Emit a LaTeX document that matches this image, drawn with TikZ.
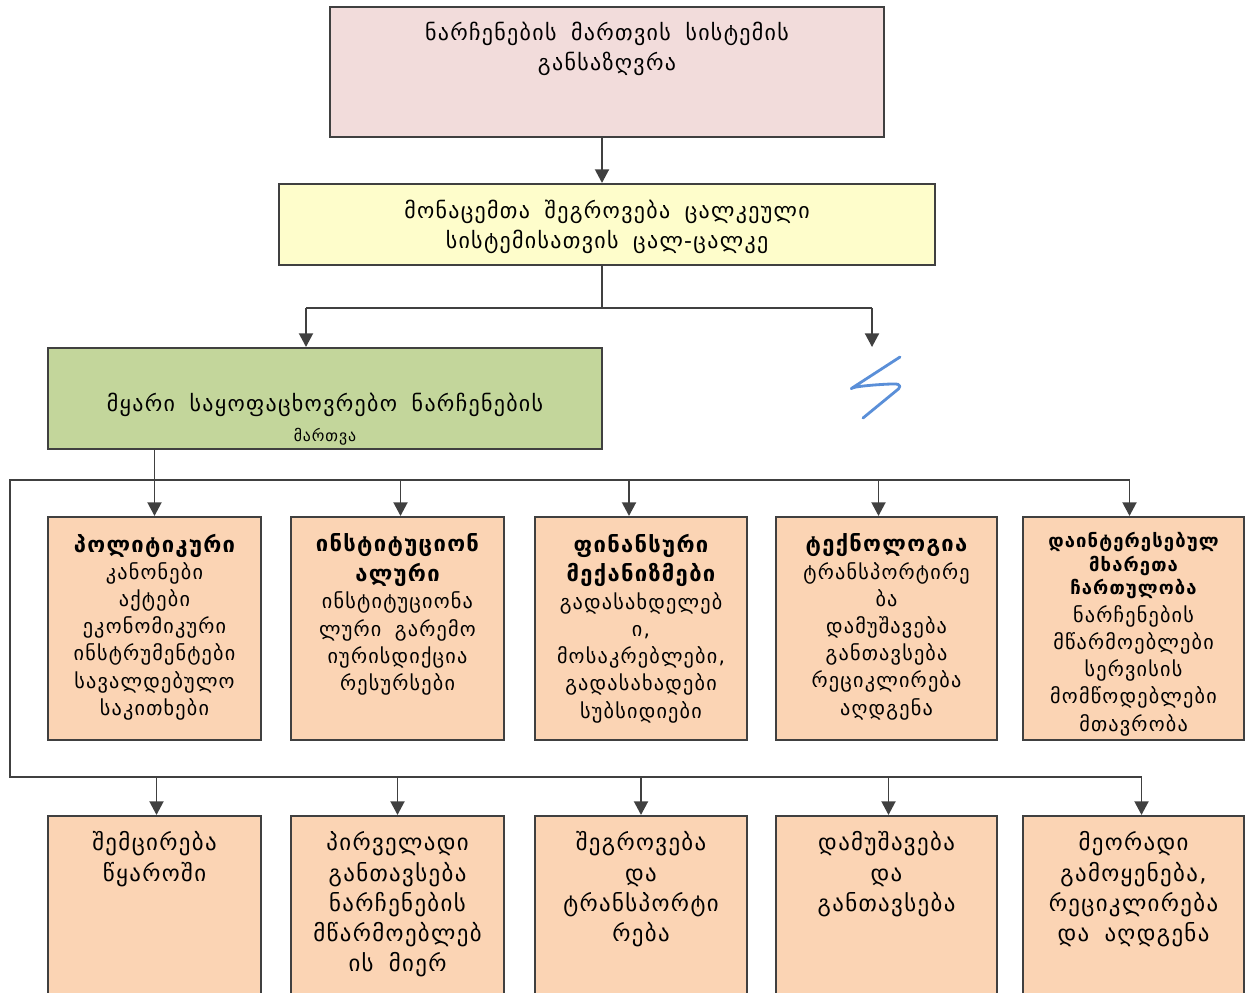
\documentclass[tikz,border=0pt]{standalone}
\usepackage{fontspec}
\setmainfont{DejaVu Sans}[LetterSpace=6]
\usepackage{tikz}
\usetikzlibrary{arrows.meta,positioning,fit}
\definecolor{capPink}{HTML}{F2DCDB}
\definecolor{dataYellow}{HTML}{FEFDCB}
\definecolor{mswGreen}{HTML}{C3D69B}
\definecolor{peach}{HTML}{FBD4B4}
\definecolor{edgeGray}{HTML}{404040}
\definecolor{penBlue}{HTML}{5A8FD8}
\tikzset{
  box/.style={draw=edgeGray, line width=1.2pt, inner sep=0pt},
  txt/.style={inner sep=0pt, align=center, text width=#1},
  conn/.style={draw=edgeGray, line width=1.1pt},
  arr/.style={conn, -{Triangle[length=7.8pt,width=8pt]}},
  squiggle/.style={draw=penBlue, line width=1.6pt, line cap=round, line join=round, rounded corners=2.5pt},
  big/.style={font=\fontsize{12.5}{17}\selectfont},
  body/.style={font=\fontsize{11.5}{15.5}\selectfont},
  low/.style={font=\fontsize{13}{17.2}\selectfont}
}
\newcommand{\hd}[1]{{\bfseries\fontsize{12.5}{17}\selectfont #1\par}}
\begin{document}
\begin{tikzpicture}[x=0.02cm, y=-0.02cm]
\useasboundingbox (0,0) rectangle (1246,992);

% upper chain
\node[box, fill=capPink, fit={(330,7) (884,137)}] (define) {};
\node[txt=10.8cm, big, below=0.31cm of define.north] (defineT)
  {ნარჩენების\ \ მართვის\ \ სისტემის\\განსაზღვრა};
\node[box, fill=dataYellow, fit={(279,184) (935,265)}] (data) {};
\node[txt=12.8cm, big, below=0.33cm of data.north] (dataT)
  {მონაცემთა\ \ შეგროვება\ \ ცალკეული\\სისტემისათვის\ \ ცალ-ცალკე};
\node[box, fill=mswGreen, fit={(48,348) (602,449)}] (msw) {};
\node[txt=10.8cm, big, below=0.91cm of msw.north] (mswT)
  {მყარი\ \ საყოფაცხოვრებო\ \ ნარჩენების\\{\fontsize{9}{11}\selectfont მართვა}};

\coordinate (spine) at (602,0);
\draw[arr] (spine |- define.south) -- (spine |- data.north);
\coordinate (split) at (602,308);
\coordinate (forkL) at (306,308);
\coordinate (forkR) at (872,308);
\coordinate (other) at (872,347);
\draw[conn] (split |- data.south) -- (split);
\draw[conn] (forkL) -- (forkR);
\draw[arr] (forkL) -- (forkL |- msw.north);
\draw[arr] (forkR) -- (other);
\draw[squiggle] (900,357) -- (849,390) .. controls (856,386) and (895,383) .. (902,386) -- (863,418);

% boxes, rows
\foreach \nm/\xa/\xb in {pol/48/261, inst/291/504, fin/535/747, tech/776/997, stake/1023/1244}
  \node[box, fill=peach, fit={(\xa,517) (\xb,740)}] (\nm) {};
\foreach \nm/\xa/\xb in {red/48/261, prim/291/504, coll/535/747, treat/776/997, reuse/1023/1244}
  \node[box, fill=peach, fit={(\xa,816) (\xb,1000)}] (\nm) {};

\node[txt=4.2cm, body, below=0.35cm of pol.north] (polT)
  {\hd{პოლიტიკური}
   კანონები\\აქტები\\ეკონომიკური\\ინსტრუმენტები\\სავალდებულო\\საკითხები};
\node[txt=4.2cm, body, below=0.35cm of inst.north] (instT)
  {\hd{ინსტიტუციონ\\ალური}
   ინსტიტუციონა\\ლური\ \ გარემო\\იურისდიქცია\\რესურსები};
\node[txt=4.2cm, body, below=0.35cm of fin.north] (finT)
  {\hd{ფინანსური\\მექანიზმები}
   გადასახდელებ\\ი,\\მოსაკრებლები,\\გადასახადები\\სუბსიდიები};
\node[txt=4.4cm, body, below=0.35cm of tech.north] (techT)
  {\hd{ტექნოლოგია}
   ტრანსპორტირე\\ბა\\დამუშავება\\განთავსება\\რეციკლირება\\აღდგენა};
\node[txt=4.4cm, body, below=0.31cm of stake.north] (stakeT)
  {{\bfseries\fontsize{10.5}{13.6}\selectfont დაინტერესებულ\\მხარეთა\\ჩართულობა\par}
   ნარჩენების\\მწარმოებლები\\სერვისის\\მომწოდებლები\\მთავრობა};

\node[txt=4.2cm, low, below=0.33cm of red.north] (redT) {შემცირება\\წყაროში};
\node[txt=4.2cm, low, below=0.33cm of prim.north] (primT)
  {პირველადი\\განთავსება\\ნარჩენების\\მწარმოებლებ\\ის\ \ მიერ};
\node[txt=4.2cm, low, below=0.33cm of coll.north] (collT)
  {შეგროვება\\და\\ტრანსპორტი\\რება};
\node[txt=4.4cm, low, below=0.33cm of treat.north] (treatT)
  {დამუშავება\\და\\განთავსება};
\node[txt=4.4cm, low, below=0.33cm of reuse.north] (reuseT)
  {მეორადი\\გამოყენება,\\რეციკლირება\\და\ \ აღდგენა};

% frame and arrows to the rows
\coordinate (busT) at (10,480);
\coordinate (busB) at (10,777);
\draw[conn] ([xshift=-4*0.02cm]stake.north |- busT) -- (busT) -- (busB) -- ([xshift=8*0.02cm]reuse.north |- busB);
\draw[arr] (pol.north |- msw.south) -- (pol.north);
\foreach \nm/\dx in {inst/3, fin/-12, tech/-8, stake/-4}
  \draw[arr] ([xshift=\dx*0.02cm]\nm.north |- busT) -- ([xshift=\dx*0.02cm]\nm.north);
\foreach \nm/\dx in {red/2, prim/0, coll/0, treat/2, reuse/8}
  \draw[arr] ([xshift=\dx*0.02cm]\nm.north |- busB) -- ([xshift=\dx*0.02cm]\nm.north);
\end{tikzpicture}
\end{document}
